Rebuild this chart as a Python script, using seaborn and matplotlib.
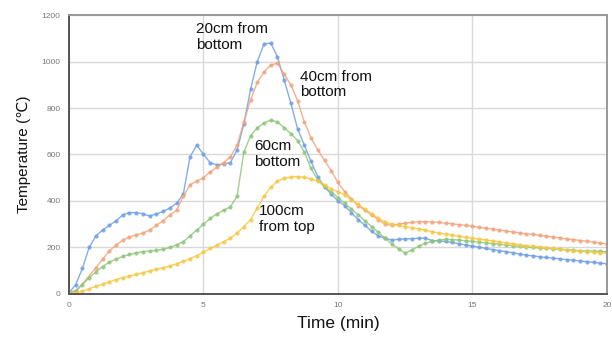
import numpy as np
import pandas as pd
import matplotlib
matplotlib.use('Agg')
import matplotlib.pyplot as plt
import seaborn as sns

# time axis, every 0.25 min
time_min = np.arange(0, 20.01, 0.25)

t_20cm = [5, 40, 110, 200, 250, 275, 295, 315, 340, 350, 350, 345, 335, 345, 355, 370,
          390, 430, 590, 640, 600, 565, 555, 560, 565, 620, 730, 880, 1000, 1075, 1080, 1020,
          920, 820, 710, 640, 570, 505, 460, 430, 400, 380, 350, 320, 295, 270, 250, 240,
          232, 235, 237, 238, 240, 240, 230, 228, 226, 222, 216, 211, 206, 201, 196, 191,
          186, 182, 177, 172, 167, 164, 160, 157, 154, 151, 148, 145, 142, 139, 136, 133, 130]

t_40cm = [10, 10, np.nan, np.nan, 112, 150, 185, 210, 232, 245, 255, 262, 275, 295, 315, 340,
          360, 420, 470, 485, 500, 525, 545, 565, 590, 640, 740, 835, 910, 955, 985, 992,
          945, 900, 830, 740, 670, 620, 575, 530, 480, 440, 410, 380, 360, 340, 320, 300,
          296, 300, 305, 308, 311, 311, 310, 308, 305, 302, 298, 295, 291, 287, 283, 279,
          275, 271, 267, 263, 259, 256, 252, 248, 245, 241, 237, 234, 230, 227, 223, 219, 215]

t_60cm = [5, 15, 40, 70, 95, 118, 137, 150, 162, 170, 177, 182, 185, 188, 192, 200,
          211, 225, 250, 275, 300, 325, 345, 360, 375, 420, 610, 680, 715, 735, 748, 740,
          715, 690, 660, 610, 540, 490, 460, 440, 415, 390, 365, 340, 315, 290, 265, 240,
          215, 195, 175, 190, 205, 218, 227, 232, 235, 234, 232, 229, 226, 223, 220, 217,
          214, 211, 208, 205, 202, 200, 198, 196, 194, 192, 190, 188, 186, 185, 184, 183, 182]

t_100cm = [2, 5, 12, 22, 33, 42, 52, 62, 70, 77, 84, 92, 99, 106, 113, 120,
           130, 140, 152, 165, 180, 196, 210, 225, 240, 262, 290, 320, 370, 420, 460, 485,
           498, 503, 505, 502, 495, 485, 470, 452, 440, 425, 405, 385, 365, 345, 325, 310,
           300, 295, 290, 285, 280, 275, 268, 262, 258, 254, 248, 244, 240, 236, 232, 228,
           224, 220, 216, 212, 208, 205, 202, 199, 196, 193, 190, 187, 184, 182, 180, 178, 176]

series_names = ['20cm', '40cm', '60cm', '100cm']
colors = ['#6f9fe6', '#f2a47c', '#8fc67a', '#f7c744']

frames = []
for name, vals in zip(series_names, [t_20cm, t_40cm, t_60cm, t_100cm]):
    frames.append(pd.DataFrame({'time': time_min, 'temp': vals, 'pos': name}))
df = pd.concat(frames, ignore_index=True)

sns.set_style('white')
plt.rcParams['font.family'] = ['Liberation Sans', 'DejaVu Sans']

fig = plt.figure(figsize=(6.12, 3.38), dpi=100)
ax = fig.add_axes([0.1127, 0.1302, 0.8791, 0.8254])

ax.grid(True, color='#d9d9d9', linewidth=1.0)
ax.set_axisbelow(True)

for name, c in zip(series_names, colors):
    sub = df[df['pos'] == name]
    sns.lineplot(data=sub, x='time', y='temp', color=c, marker='o', markersize=3,
                 markeredgewidth=0, linewidth=1.0, alpha=0.85, ax=ax, legend=False)

ax.set_xlim(0, 20)
ax.set_ylim(0, 1200)
ax.set_xticks([0, 5, 10, 15, 20])
ax.set_yticks([0, 200, 400, 600, 800, 1000, 1200])
ax.tick_params(axis='both', labelsize=6, colors='#777777', length=0, pad=6)

for side in ['left', 'bottom']:
    ax.spines[side].set_color('#555555')
    ax.spines[side].set_linewidth(1.4)
for side in ['top', 'right']:
    ax.spines[side].set_color('#999999')
    ax.spines[side].set_linewidth(1.4)

ax.set_xlabel('Time (min)', fontsize=12.5, color='#111111', labelpad=5)
ax.set_ylabel('Temperature (℃)', fontsize=11, color='#111111', labelpad=8)

txt = dict(fontsize=11, color='#111111', va='top', ha='left', linespacing=1.15)
ax.text(4.72, 1170, '20cm from\nbottom', **txt)
ax.text(8.59, 965, '40cm from\nbottom', **txt)
ax.text(6.88, 665, '60cm\nbottom', **txt)
ax.text(7.06, 385, '100cm\nfrom top', **txt)

fig.savefig('out.png', dpi=100)
